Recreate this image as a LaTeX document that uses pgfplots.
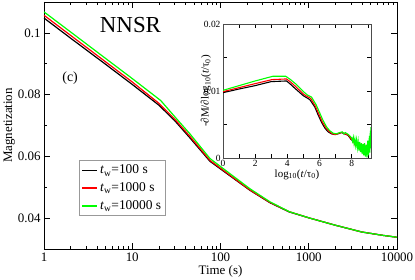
\documentclass[border=0pt]{standalone}
\usepackage{pgfplots}
\pgfplotsset{compat=1.18}
\usepackage{fontspec}
\setmainfont{Liberation Serif}
\definecolor{cgreen}{RGB}{0,255,0}
\definecolor{cred}{RGB}{255,0,0}
\begin{document}
\begin{tikzpicture}
\useasboundingbox (-44bp,-31bp) rectangle (371bp,249bp);
\begin{axis}[
  name=main,
  at={(0,0)}, anchor=south west,
  scale only axis, width=353bp, height=247bp,
  xmode=log, xmin=1, xmax=10000,
  ymin=0.03, ymax=0.11,
  scaled y ticks=false,
  xtick={1,10,100,1000,10000},
  xticklabels={1,10,100,1000,10000},
  ytick={0.04,0.06,0.08,0.1},
  yticklabels={0.04,0.06,0.08,0.1},
  minor ytick={0.03,0.05,0.07,0.09,0.11},
  tick align=inside,
  major tick length=6bp, minor tick length=3bp,
  every tick/.style={black, line width=0.6pt},
  tick label style={font=\fontsize{13}{15}\selectfont},
  /pgf/number format/assume math mode=true,
  xlabel={Time (s)}, ylabel={Magnetization},
  label style={font=\fontsize{13}{15}\selectfont},
  xlabel style={yshift=3bp},
  ylabel style={yshift=-4bp},
  axis line style={line width=0.8pt},
  legend style={at={(0.099,0.36)}, anchor=north west, draw=gray!80, line width=0.8pt,
    font=\fontsize{13.5}{15}\selectfont, row sep=3.5bp, inner sep=2.5bp},
  legend cell align=left,
  legend image code/.code={\draw[#1, line width=1.3pt] (0bp,0bp) -- (15bp,0bp);},
]
\addplot[black, line width=1.2pt] coordinates {
(1,0.1048)(2,0.0983)(5,0.0898)(10,0.0833)(20,0.0766)(30,0.0717)(45,0.0660)(76,0.0584)
(128,0.0537)(216,0.0490)(363,0.0450)(600,0.0420)(1000,0.0401)(2000,0.0377)(4000,0.0355)
(7000,0.0344)(10000,0.0338)};
\addlegendentry{\textit{t}\textsubscript{w}=100 s}
\addplot[color=cred, line width=1.2pt] coordinates {
(1,0.1057)(2,0.0992)(5,0.0906)(10,0.0841)(20,0.0772)(30,0.0722)(45,0.0665)(76,0.0587)
(128,0.0539)(216,0.0491)(363,0.0451)(600,0.0421)(1000,0.0401)(2000,0.0377)(4000,0.0355)
(7000,0.0344)(10000,0.0338)};
\addlegendentry{\textit{t}\textsubscript{w}=1000 s}
\addplot[color=cgreen, line width=1.2pt] coordinates {
(1,0.1068)(2,0.1003)(5,0.0917)(10,0.0852)(21,0.0781)(30,0.0730)(45,0.0673)(76,0.0593)
(128,0.0544)(216,0.0495)(363,0.0453)(600,0.0421)(1000,0.0401)(2000,0.0377)(4000,0.0355)
(7000,0.0344)(10000,0.0338)};
\addlegendentry{\textit{t}\textsubscript{w}=10000 s}
\node[font=\fontsize{23}{26}\selectfont] at (axis description cs:0.245,0.905) {NNSR};
\node[font=\fontsize{14}{16}\selectfont] at (axis description cs:0.074,0.69) {(c)};
\end{axis}
\begin{axis}[
  at={(179bp,91bp)}, anchor=south west,
  scale only axis, width=148bp, height=134bp,
  xmin=0, xmax=9.2, ymin=0, ymax=0.02,
  scaled y ticks=false,
  xtick={0,2,4,6,8}, minor xtick={1,3,5,7,9},
  ytick={0,0.01,0.02}, yticklabels={0,0.01,0.02},
  minor ytick={0.005,0.015},
  tick align=inside,
  major tick length=4bp, minor tick length=4bp,
  every tick/.style={black, line width=0.5pt},
  tick label style={font=\fontsize{9.5}{11}\selectfont},
  /pgf/number format/assume math mode=true,
  xticklabel style={yshift=1bp},
  yticklabel style={xshift=1bp},
  axis background/.style={fill=white},
  axis line style={line width=0.8pt, gray!60!black},
  xlabel={log\textsubscript{10}(\textit{t}/τ\textsubscript{0})},
  ylabel={-∂M/∂log\textsubscript{10}(\textit{t}/τ\textsubscript{0})},
  label style={font=\fontsize{11}{13}\selectfont},
  xlabel style={yshift=4bp},
  ylabel style={yshift=-14bp},
]
\addplot[black, line width=1.1pt] coordinates {
(0,0.00975)(1,0.0103)(2,0.0108)(3.0,0.0114)(3.95,0.0115)(4.2,0.0110)(4.47,0.0104)(4.99,0.0093)
(5.2,0.0090)(5.40,0.0087)(5.71,0.0076)(5.9,0.0065)(6.13,0.0053)(6.35,0.0044)(6.54,0.0039)(6.75,0.0036)(6.96,0.0035)
(7.15,0.0036)(7.37,0.0038)(7.55,0.0036)(7.77,0.0034)(7.95,0.0028)(8.1,0.0025)(8.25,0.0022)(8.4,0.0020)
(8.55,0.0017)(8.7,0.0015)(8.85,0.0013)(9.0,0.0015)(9.1,0.0020)(9.2,0.0028)};
\addplot[cred, line width=1.1pt] coordinates {
(0,0.0099)(1,0.0105)(2,0.0111)(3.05,0.0117)(3.95,0.0118)(4.22,0.0113)(4.5,0.0107)(5.02,0.0095)
(5.22,0.0092)(5.45,0.0089)(5.75,0.0077)(5.95,0.0066)(6.17,0.0054)(6.4,0.0045)(6.58,0.0040)(6.8,0.0036)(7.0,0.0035)
(7.2,0.0037)(7.4,0.0038)(7.58,0.0036)(7.8,0.0034)(7.98,0.0028)(8.1,0.0026)(8.2,0.0020)(8.3,0.0024)(8.4,0.0017)
(8.5,0.0021)(8.6,0.0013)(8.7,0.0019)(8.8,0.0011)(8.9,0.0018)(9.0,0.0012)(9.1,0.0024)(9.15,0.0015)(9.2,0.0033)};
\addplot[cgreen, line width=1.1pt] coordinates {
(0,0.0101)(1,0.0108)(2,0.0115)(3.1,0.0122)(3.9,0.0122)(4.2,0.0117)(4.55,0.0110)(5.05,0.0098)
(5.25,0.0094)(5.5,0.0091)(5.8,0.0079)(6.0,0.0068)(6.22,0.0056)(6.45,0.0046)(6.62,0.0041)(6.85,0.0037)(7.05,0.0036)
(7.25,0.0038)(7.42,0.0039)(7.5,0.0036)(7.6,0.0038)(7.8,0.0035)(8.0,0.0030)(8.05,0.0025)(8.1,0.0031)(8.15,0.0021)
(8.2,0.0028)(8.25,0.0018)(8.3,0.0027)(8.35,0.0015)(8.4,0.0025)(8.45,0.0011)(8.5,0.0024)(8.55,0.0009)
(8.6,0.0022)(8.65,0.0006)(8.7,0.0021)(8.75,0.0004)(8.8,0.0022)(8.85,0.0002)(8.9,0.0020)(8.95,0.0001)
(9.0,0.0026)(9.05,0.0004)(9.1,0.0033)(9.13,0.0008)(9.16,0.0041)(9.18,0.0015)(9.2,0.0046)};
\end{axis}
\end{tikzpicture}
\end{document}
